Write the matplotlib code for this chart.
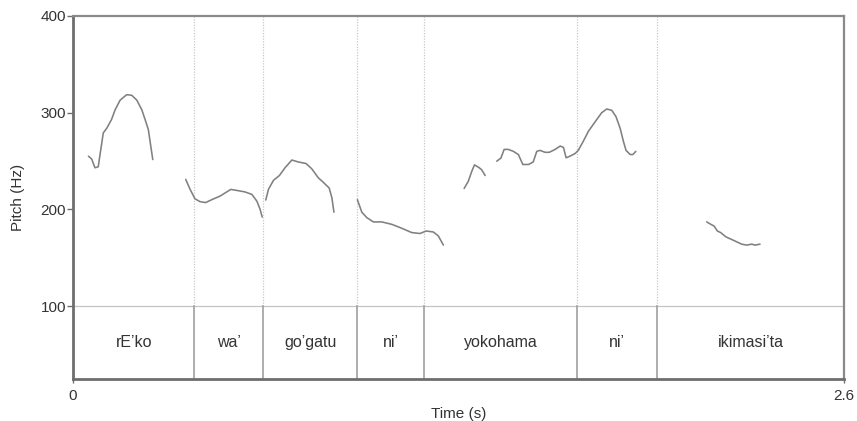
import matplotlib

matplotlib.use("Agg")

import matplotlib.pyplot as plt

plt.rcParams["font.family"] = ["Liberation Sans", "DejaVu Sans"]

# Word tier: boundaries (s) and labels
BOUNDARIES = [0.0, 0.409, 0.640, 0.959, 1.184, 1.699, 1.971, 2.6]
WORDS = ["rE\u2019ko", "wa\u2019", "go\u2019gatu", "ni\u2019", "yokohama", "ni\u2019", "ikimasi\u2019ta"]

# Pitch track, one list pair per voiced stretch
seg1_t = [0.052, 0.063, 0.074, 0.085, 0.102, 0.114, 0.130, 0.142, 0.159, 0.181,
          0.198, 0.215, 0.232, 0.243, 0.254, 0.260, 0.269]
seg1_hz = [255, 252, 243, 244, 279, 284, 293, 303, 313, 318.6,
           318, 313, 303, 293, 282.5, 270, 251.5]

seg2_t = [0.380, 0.395, 0.411, 0.428, 0.447, 0.468, 0.496, 0.513, 0.532, 0.552,
          0.580, 0.603, 0.620, 0.631, 0.638]
seg2_hz = [231, 220.6, 211, 208, 207, 210, 213.7, 217, 220.6, 219.6,
           218, 215.5, 208.5, 200, 192]

seg3_t = [0.650, 0.659, 0.676, 0.696, 0.715, 0.738, 0.760, 0.786, 0.805, 0.827,
          0.844, 0.864, 0.873, 0.880]
seg3_hz = [209.6, 220.6, 230, 235, 243, 251, 249, 247.4, 242, 232.7,
           228, 222, 212, 197]

seg4_t = [0.959, 0.974, 0.991, 1.013, 1.041, 1.075, 1.109, 1.142, 1.170, 1.191,
          1.215, 1.232, 1.249]
seg4_hz = [210, 197, 191.4, 187, 187, 184.5, 180.4, 176, 175, 177.6,
           176.6, 172.5, 163]

seg5_t = [1.319, 1.333, 1.345, 1.354, 1.370, 1.378, 1.390]
seg5_hz = [221.6, 229, 239.5, 246, 243, 241, 235]

seg6_t = [1.429, 1.443, 1.454, 1.468, 1.485, 1.502, 1.517, 1.536, 1.552, 1.564,
          1.575, 1.592, 1.606, 1.626, 1.643, 1.654, 1.663, 1.676, 1.693, 1.704,
          1.721, 1.738, 1.766, 1.783, 1.800, 1.817, 1.831, 1.845, 1.856, 1.865,
          1.879, 1.888, 1.898]
seg6_hz = [249.8, 253, 262, 262, 260, 256.7, 246.4, 246.4, 249, 260,
           261, 259, 259, 262, 265.5, 264, 253.3, 255, 257.7, 261,
           270.5, 280.7, 292.8, 300, 303.8, 302.4, 296, 284, 270.5, 261,
           256.7, 256.7, 260]

seg7_t = [2.137, 2.151, 2.162, 2.173, 2.184, 2.202, 2.227, 2.255, 2.272, 2.289,
          2.300, 2.317]
seg7_hz = [187, 184.5, 182.7, 177.6, 176, 171.5, 168, 164, 163, 164,
           163, 164]

SEGMENTS = [
    (seg1_t, seg1_hz),
    (seg2_t, seg2_hz),
    (seg3_t, seg3_hz),
    (seg4_t, seg4_hz),
    (seg5_t, seg5_hz),
    (seg6_t, seg6_hz),
    (seg7_t, seg7_hz),
]

Y_TICKS = [100, 200, 300, 400]
TIER_TOP = 100
Y_MIN = 24
Y_MAX = 400
T_MAX = 2.6

TEXT = "#333333"

fig = plt.figure(figsize=(8.57, 4.21), dpi=100)
ax = fig.add_axes([0.0852, 0.0986, 0.8996, 0.8634])
ax.set_xlim(0, T_MAX)
ax.set_ylim(Y_MIN, Y_MAX)

# tier separator and word boundaries
ax.axhline(TIER_TOP, color="#c4c4c4", lw=0.9, zorder=1)
for b in BOUNDARIES[1:-1]:
    ax.plot([b, b], [TIER_TOP, Y_MAX], color="#c8c8c8", lw=0.9, ls=(0, (1, 1.2)), zorder=1)
    ax.plot([b, b], [Y_MIN, TIER_TOP], color="#a0a0a0", lw=1.2, zorder=1)

for (start, end), word in zip(zip(BOUNDARIES[:-1], BOUNDARIES[1:]), WORDS):
    ax.text((start + end) / 2, (TIER_TOP + Y_MIN) / 2, word, ha="center", va="center",
            fontsize=11.5, color=TEXT)

for t, hz in SEGMENTS:
    ax.plot(t, hz, color="#808080", lw=1.15, zorder=3, solid_capstyle="round")

# frame
ax.spines["left"].set_color("#6e6e6e")
ax.spines["left"].set_linewidth(2.0)
ax.spines["bottom"].set_color("#6e6e6e")
ax.spines["bottom"].set_linewidth(2.0)
ax.spines["top"].set_color("#8a8a8a")
ax.spines["top"].set_linewidth(1.6)
ax.spines["right"].set_color("#8a8a8a")
ax.spines["right"].set_linewidth(1.6)

ax.set_yticks(Y_TICKS)
ax.set_yticklabels([str(v) for v in Y_TICKS])
ax.set_xticks([0, T_MAX])
ax.set_xticklabels(["0", "2.6"])
ax.tick_params(axis="y", length=4, width=1.0, color="#6e6e6e", labelsize=11,
               labelcolor=TEXT, pad=1)
ax.tick_params(axis="x", length=3, width=1.0, color="#6e6e6e", labelsize=11,
               labelcolor=TEXT, pad=4)

ax.set_ylabel("Pitch (Hz)", fontsize=11, color=TEXT, labelpad=11)
ax.set_xlabel("Time (s)", fontsize=11, color=TEXT, labelpad=3)

fig.savefig("out.png", dpi=100)
plt.close(fig)
